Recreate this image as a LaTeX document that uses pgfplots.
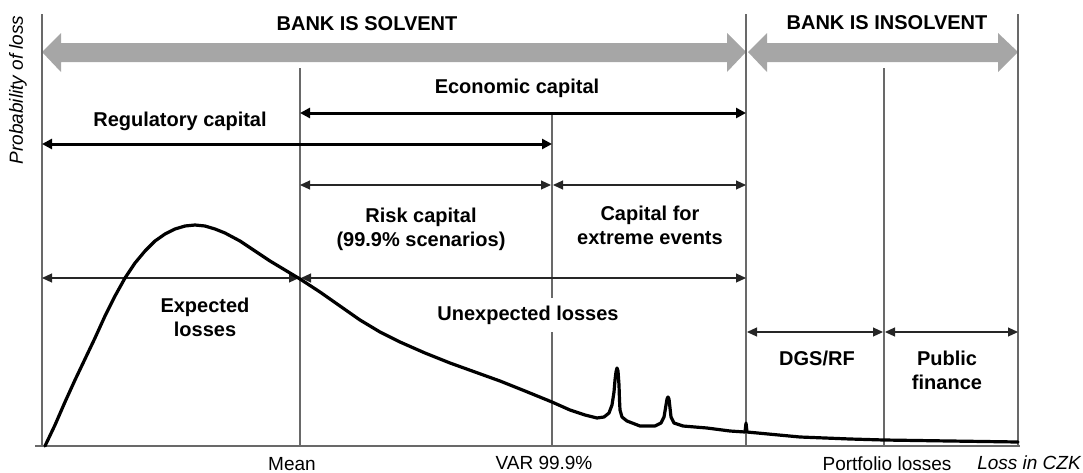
\documentclass[border=0pt]{standalone}
\usepackage{pgfplots}
\pgfplotsset{compat=1.18}
\usepackage{fontspec}
\setmainfont{Liberation Sans}
\usetikzlibrary{arrows.meta}
\definecolor{arrowgrey}{RGB}{166,166,166}
\definecolor{linegrey}{RGB}{105,105,105}
\tikzset{
  bl/.style={font=\bfseries\fontsize{10}{12}\selectfont, align=center, text=black, inner sep=0pt},
  nl/.style={font=\fontsize{9.5}{11}\selectfont, text=black, inner sep=0pt},
  vl/.style={draw=linegrey, line width=0.6pt},
  thin arr/.style={draw=black!85, line width=0.55pt, {Triangle[length=5pt,width=4.5pt]}-{Triangle[length=5pt,width=4.5pt]}},
  thick arr/.style={draw=black, line width=1.5pt, {Triangle[length=5pt,width=5pt]}-{Triangle[length=5pt,width=5pt]}},
}
\begin{document}
\begin{tikzpicture}
\begin{axis}[scale only axis, width=541.5pt, height=236pt,
  xmin=0, xmax=1083, ymin=0, ymax=472, y dir=reverse,
  hide axis, clip=false]
\path (axis cs:0,0) rectangle (axis cs:1083,472);
% grey big arrows
\fill[arrowgrey] (axis cs:42,52) -- (axis cs:61,33) -- (axis cs:61,43) -- (axis cs:727,43) -- (axis cs:727,33) -- (axis cs:746,52) -- (axis cs:727,72) -- (axis cs:727,62) -- (axis cs:61,62) -- (axis cs:61,72) -- cycle;
\fill[arrowgrey] (axis cs:748,52) -- (axis cs:767,33) -- (axis cs:767,43) -- (axis cs:998,43) -- (axis cs:998,33) -- (axis cs:1018,52) -- (axis cs:998,72) -- (axis cs:998,62) -- (axis cs:767,62) -- (axis cs:767,72) -- cycle;
\node[bl] at (axis cs:367,24) {BANK IS SOLVENT};
\node[bl] at (axis cs:887,23) {BANK IS INSOLVENT};
% axes and vertical lines
\draw[vl] (axis cs:35,446) -- (axis cs:1020,446);
\draw[vl] (axis cs:42,14) -- (axis cs:42,446);
\draw[vl] (axis cs:746,14) -- (axis cs:746,446);
\draw[vl] (axis cs:1018,14) -- (axis cs:1018,446);
\draw[vl] (axis cs:300,68) -- (axis cs:300,446);
\draw[vl] (axis cs:884,68) -- (axis cs:884,446);
\draw[vl] (axis cs:552,114) -- (axis cs:552,446);
% capital arrows
\draw[thick arr] (axis cs:300,113) -- (axis cs:746,113);
\node[bl] at (axis cs:517,88) {Economic capital};
\draw[thick arr] (axis cs:42,144) -- (axis cs:552,144);
\node[bl] at (axis cs:180,121) {Regulatory\ capital};
\draw[thin arr] (axis cs:300,185) -- (axis cs:551,185);
\draw[thin arr] (axis cs:553,185) -- (axis cs:746,185);
\node[bl] at (axis cs:421,229) {Risk capital\\(99.9\% scenarios)};
\node[bl] at (axis cs:650,225) {Capital for\\extreme events};
\draw[thin arr] (axis cs:42,278) -- (axis cs:299,278);
\draw[thin arr] (axis cs:301,278) -- (axis cs:746,278);
\node[bl] at (axis cs:205,317) {Expected\\losses};
\node[bl, fill=white, inner xsep=1pt, inner ysep=4pt] at (axis cs:528,315) {Unexpected losses};
\draw[thin arr] (axis cs:747,332) -- (axis cs:883,332);
\draw[thin arr] (axis cs:885,332) -- (axis cs:1018,332);
\node[bl] at (axis cs:817,358) {DGS/RF};
\node[bl] at (axis cs:947,370) {Public\\finance};
% bottom labels
\node[nl] at (axis cs:292,464) {Mean};
\node[nl] at (axis cs:544,463) {VAR 99.9\%};
\node[nl] at (axis cs:887,464) {Portfolio losses};
\node[nl, font=\itshape\fontsize{9.5}{11}\selectfont] at (axis cs:1029,463) {Loss in CZK};
\node[nl, font=\itshape\fontsize{9.5}{11}\selectfont, rotate=90] at (axis cs:18,90) {Probability of loss};
% loss distribution curve
\addplot[black, line width=1.6pt, line join=round, line cap=round] coordinates {
(45,446) (55,425) (65,402) (75,380) (85,359) (95,338) (105,316) (115,296) (125,278)
(135,263) (145,251) (155,241) (165,234) (175,229) (185,226) (195,225) (205,226)
(215,229) (225,233) (240,241) (255,251) (270,261) (285,270) (300,279) (320,292)
(340,306) (360,320) (380,332) (400,342) (425,353) (450,363) (475,372) (500,381)
(525,391) (552,402) (570,410) (585,415) (597,418) (604,417) (609,413) (612,405)
(614,392) (615,380) (616,372) (617,368) (618,371) (619,385) (619.5,400) (620,410)
(622,417) (627,421) (640,426) (655,426) (661,423) (664,417) (666,405) (667,399)
(668,397) (669,399) (670,408) (671,417) (674,423) (683,426) (707,428) (730,431)
(745,432) (746,423) (747,432) (800,437) (850,439) (884,440) (950,441) (1018,442)
};
\end{axis}
\end{tikzpicture}
\end{document}
